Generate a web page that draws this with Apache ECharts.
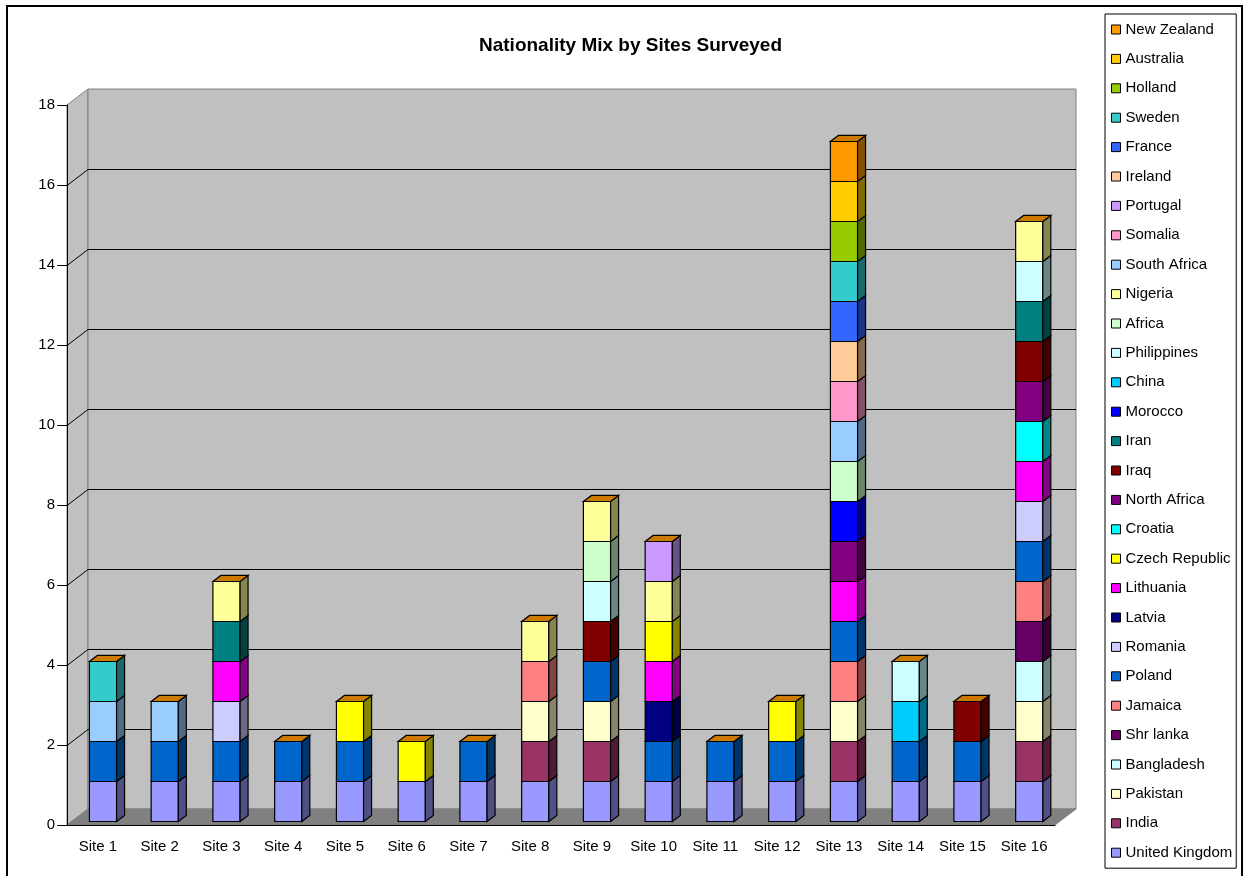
<!DOCTYPE html>
<html>
<head>
<meta charset="utf-8">
<title>Nationality Mix by Sites Surveyed</title>
<script src="https://cdn.jsdelivr.net/npm/echarts@6/dist/echarts.min.js"></script>
<style>
  html, body { margin: 0; padding: 0; background: #fff; }
  #chart { width: 1243px; height: 876px; }
</style>
</head>
<body>
<div id="chart"></div>
<script>
const sites = ['Site 1', 'Site 2', 'Site 3', 'Site 4', 'Site 5', 'Site 6', 'Site 7', 'Site 8',
    'Site 9', 'Site 10', 'Site 11', 'Site 12', 'Site 13', 'Site 14', 'Site 15', 'Site 16'];
const yTicks = [0, 2, 4, 6, 8, 10, 12, 14, 16, 18];

// people counted per site, one array per nationality (stack order: bottom first)
const unitedKingdom = [1, 1, 1, 1, 1, 1, 1, 1, 1, 1, 1, 1, 1, 1, 1, 1];
const india         = [0, 0, 0, 0, 0, 0, 0, 1, 1, 0, 0, 0, 1, 0, 0, 1];
const pakistan      = [0, 0, 0, 0, 0, 0, 0, 1, 1, 0, 0, 0, 1, 0, 0, 1];
const bangladesh    = [0, 0, 0, 0, 0, 0, 0, 0, 0, 0, 0, 0, 0, 0, 0, 1];
const shrLanka      = [0, 0, 0, 0, 0, 0, 0, 0, 0, 0, 0, 0, 0, 0, 0, 1];
const jamaica       = [0, 0, 0, 0, 0, 0, 0, 1, 0, 0, 0, 0, 1, 0, 0, 1];
const poland        = [1, 1, 1, 1, 1, 0, 1, 0, 1, 1, 1, 1, 1, 1, 1, 1];
const romania       = [0, 0, 1, 0, 0, 0, 0, 0, 0, 0, 0, 0, 0, 0, 0, 1];
const latvia        = [0, 0, 0, 0, 0, 0, 0, 0, 0, 1, 0, 0, 0, 0, 0, 0];
const lithuania     = [0, 0, 1, 0, 0, 0, 0, 0, 0, 1, 0, 0, 1, 0, 0, 1];
const czechRepublic = [0, 0, 0, 0, 1, 1, 0, 0, 0, 1, 0, 1, 0, 0, 0, 0];
const croatia       = [0, 0, 0, 0, 0, 0, 0, 0, 0, 0, 0, 0, 0, 0, 0, 1];
const northAfrica   = [0, 0, 0, 0, 0, 0, 0, 0, 0, 0, 0, 0, 1, 0, 0, 1];
const iraq          = [0, 0, 0, 0, 0, 0, 0, 0, 1, 0, 0, 0, 0, 0, 1, 1];
const iran          = [0, 0, 1, 0, 0, 0, 0, 0, 0, 0, 0, 0, 0, 0, 0, 1];
const morocco       = [0, 0, 0, 0, 0, 0, 0, 0, 0, 0, 0, 0, 1, 0, 0, 0];
const china         = [0, 0, 0, 0, 0, 0, 0, 0, 0, 0, 0, 0, 0, 1, 0, 0];
const philippines   = [0, 0, 0, 0, 0, 0, 0, 0, 1, 0, 0, 0, 0, 1, 0, 1];
const africa        = [0, 0, 0, 0, 0, 0, 0, 0, 1, 0, 0, 0, 1, 0, 0, 0];
const nigeria       = [0, 0, 1, 0, 0, 0, 0, 1, 1, 1, 0, 0, 0, 0, 0, 1];
const southAfrica   = [1, 1, 0, 0, 0, 0, 0, 0, 0, 0, 0, 0, 1, 0, 0, 0];
const somalia       = [0, 0, 0, 0, 0, 0, 0, 0, 0, 0, 0, 0, 1, 0, 0, 0];
const portugal      = [0, 0, 0, 0, 0, 0, 0, 0, 0, 1, 0, 0, 0, 0, 0, 0];
const ireland       = [0, 0, 0, 0, 0, 0, 0, 0, 0, 0, 0, 0, 1, 0, 0, 0];
const france        = [0, 0, 0, 0, 0, 0, 0, 0, 0, 0, 0, 0, 1, 0, 0, 0];
const sweden        = [1, 0, 0, 0, 0, 0, 0, 0, 0, 0, 0, 0, 1, 0, 0, 0];
const holland       = [0, 0, 0, 0, 0, 0, 0, 0, 0, 0, 0, 0, 1, 0, 0, 0];
const australia     = [0, 0, 0, 0, 0, 0, 0, 0, 0, 0, 0, 0, 1, 0, 0, 0];
const newZealand    = [0, 0, 0, 0, 0, 0, 0, 0, 0, 0, 0, 0, 1, 0, 0, 0];

const nationalities = [
    ['United Kingdom', unitedKingdom], ['India', india], ['Pakistan', pakistan],
    ['Bangladesh', bangladesh], ['Shr lanka', shrLanka], ['Jamaica', jamaica],
    ['Poland', poland], ['Romania', romania], ['Latvia', latvia], ['Lithuania', lithuania],
    ['Czech Republic', czechRepublic], ['Croatia', croatia], ['North Africa', northAfrica],
    ['Iraq', iraq], ['Iran', iran], ['Morocco', morocco], ['China', china],
    ['Philippines', philippines], ['Africa', africa], ['Nigeria', nigeria],
    ['South Africa', southAfrica], ['Somalia', somalia], ['Portugal', portugal],
    ['Ireland', ireland], ['France', france], ['Sweden', sweden], ['Holland', holland],
    ['Australia', australia], ['New Zealand', newZealand]
];

// old excel palette, in series order
const palette = ['#9999FF', '#993366', '#FFFFCC', '#CCFFFF', '#660066', '#FF8080', '#0066CC',
    '#CCCCFF', '#000080', '#FF00FF', '#FFFF00', '#00FFFF', '#800080', '#800000', '#008080',
    '#0000FF', '#00CCFF', '#CCFFFF', '#CCFFCC', '#FFFF99', '#99CCFF', '#FF99CC', '#CC99FF',
    '#FFCC99', '#3366FF', '#33CCCC', '#99CC00', '#FFCC00', '#FF9900'];

const FONT = 'Arial, "Liberation Sans", sans-serif';
const DX = 21, DY = -16;          // depth of the fake 3d box
const BAR_FRONT = 0.22, BAR_BACK = 0.60;
const TOP_COLOR = '#CC7A00';

function shade(hex, k) {
    const n = parseInt(hex.slice(1), 16);
    const r = Math.round(((n >> 16) & 255) * k);
    const g = Math.round(((n >> 8) & 255) * k);
    const b = Math.round((n & 255) * k);
    return `rgb(${r},${g},${b})`;
}

function renderWall(params, api) {
    const cs = params.coordSys;
    const v = api.value(0);
    const y = Math.round(api.coord([0, v])[1]) + 0.5;
    const x0 = cs.x, x1 = cs.x + cs.width, yt = cs.y, yb = cs.y + cs.height;
    const children = [];
    if (params.dataIndex === 0) {
        const wallStyle = { fill: '#C0C0C0', stroke: '#808080', lineWidth: 1 };
        children.push({ type: 'polygon', shape: { points: [[x0, yb], [x0, yt], [x0 + DX, yt + DY], [x0 + DX, yb + DY]] }, style: wallStyle });
        children.push({ type: 'polygon', shape: { points: [[x0 + DX, yt + DY], [x1 + DX, yt + DY], [x1 + DX, yb + DY], [x0 + DX, yb + DY]] }, style: wallStyle });
        children.push({ type: 'polygon', shape: { points: [[x0, yb], [x1, yb], [x1 + DX, yb + DY], [x0 + DX, yb + DY]] }, style: { fill: '#808080', stroke: '#808080', lineWidth: 1 } });
    }
    if (v > yTicks[0] && v < yTicks[yTicks.length - 1]) {
        children.push({ type: 'polyline', shape: { points: [[x0, y], [x0 + DX, y + DY], [x1 + DX, y + DY]] }, style: { stroke: '#000', lineWidth: 1, fill: null } });
    }
    return { type: 'group', children };
}

function renderBar(params, api) {
    const val = api.value(2);
    if (!val) return;
    const x = api.value(0), base = api.value(1), total = api.value(3);
    const band = api.size([1, 0])[0];
    const w = band * 0.44;
    const p0 = api.coord([x, base]);
    const p1 = api.coord([x, base + val]);
    const left = p0[0] - w / 2 + BAR_FRONT * DX + 0.5;
    const bottom = p0[1] + BAR_FRONT * DY;
    const top = p1[1] + BAR_FRONT * DY;
    const ddx = (BAR_BACK - BAR_FRONT) * DX, ddy = (BAR_BACK - BAR_FRONT) * DY;
    const color = api.visual('color');
    const edge = { stroke: '#000', lineWidth: 1.2 };
    const children = [
        { type: 'rect', shape: { x: left, y: top, width: w, height: bottom - top }, style: Object.assign({ fill: color }, edge) },
        { type: 'polygon', shape: { points: [[left + w, bottom], [left + w + ddx, bottom + ddy], [left + w + ddx, top + ddy], [left + w, top]] }, style: Object.assign({ fill: shade(color, 0.52) }, edge) }
    ];
    if (base + val === total) {
        children.push({ type: 'polygon', shape: { points: [[left, top], [left + w, top], [left + w + ddx, top + ddy], [left + ddx, top + ddy]] }, style: Object.assign({ fill: TOP_COLOR }, edge) });
    }
    return { type: 'group', children };
}

const totals = sites.map((s, i) => nationalities.reduce((sum, n) => sum + n[1][i], 0));
const running = sites.map(() => 0);

const barSeries = nationalities.map(([name, values], k) => {
    const data = values.map((v, i) => {
        const item = [i, running[i], v, totals[i]];
        running[i] += v;
        return item;
    });
    return {
        name,
        type: 'custom',
        renderItem: renderBar,
        itemStyle: { color: palette[k] },
        encode: { x: 0, y: 1 },
        data,
        z: 2
    };
});

const chart = echarts.init(document.getElementById('chart'));
chart.setOption({
    animation: false,
    backgroundColor: '#fff',
    title: {
        text: 'Nationality Mix by Sites Surveyed',
        left: 474,
        top: 31,
        textStyle: { fontFamily: FONT, fontSize: 19, fontWeight: 'bold', color: '#000' }
    },
    legend: {
        orient: 'vertical',
        left: 1105,
        top: 14,
        padding: [7, 4, 7, 6],
        itemWidth: 9,
        itemHeight: 9,
        itemGap: 12.4,
        icon: 'rect',
        borderColor: '#000',
        borderWidth: 1,
        itemStyle: { borderColor: '#000', borderWidth: 1 },
        textStyle: { fontFamily: FONT, fontSize: 15, color: '#000', lineHeight: 17 },
        data: nationalities.map(n => n[0]).reverse()
    },
    grid: { left: 67, right: 188, top: 105, bottom: 51 },
    xAxis: {
        type: 'category',
        data: sites,
        z: 3,
        axisLine: { lineStyle: { color: '#000', width: 1 } },
        axisTick: { length: 11, lineStyle: { color: '#000' } },
        axisLabel: { fontFamily: FONT, fontSize: 15, color: '#000', margin: 14 },
        splitLine: { show: false }
    },
    yAxis: {
        type: 'value',
        min: 0,
        max: 18,
        interval: 2,
        z: 3,
        axisLine: { show: true, lineStyle: { color: '#000', width: 1 } },
        axisTick: { show: true, length: 10, lineStyle: { color: '#000' } },
        axisLabel: { fontFamily: FONT, fontSize: 15, color: '#000', margin: 12 },
        splitLine: { show: false }
    },
    graphic: [{
        type: 'rect',
        shape: { x: 7, y: 6, width: 1235, height: 880 },
        style: { fill: null, stroke: '#000', lineWidth: 2 },
        z: 100
    }],
    series: [{
        type: 'custom',
        renderItem: renderWall,
        data: yTicks.map(v => [v]),
        encode: { y: 0 },
        silent: true,
        z: 1
    }].concat(barSeries)
});
</script>
</body>
</html>
